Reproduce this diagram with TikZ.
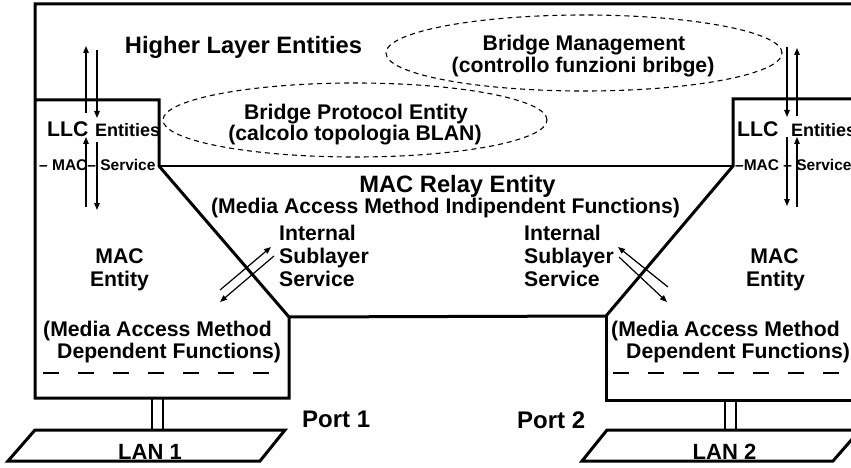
\documentclass[tikz,border=0pt]{standalone}
\usepackage{fontspec}
\setmainfont{Liberation Sans}
\usetikzlibrary{arrows.meta,shapes.geometric}
\begin{document}
\begin{tikzpicture}[x=1pt,y=-1pt,
  heavy/.style={line width=3pt, line join=miter},
  fine/.style={line width=1.3pt},
  flow/.style={line width=1.2pt, -{Triangle[length=7pt,width=5.5pt]}},
  oval/.style={line width=1.1pt, dash pattern=on 5pt off 4pt},
  sepline/.style={line width=1.2pt, dash pattern=on 16pt off 19pt},
  lbl/.style={inner sep=0pt, anchor=base, font=\fontsize{21.2}{24}\selectfont\bfseries},
  lblw/.style={lbl, anchor=base west},
  big/.style={lbl, font=\fontsize{23.7}{26}\selectfont\bfseries},
  mid/.style={lblw, font=\fontsize{18}{20}\selectfont\bfseries},
  tiny/.style={lblw, font=\fontsize{15.5}{18}\selectfont\bfseries},
]
\useasboundingbox (0,0) rectangle (851,468);
\clip (0,0) rectangle (851,468);

% corners of the bridge outline
\coordinate (frameTR) at (880,4);
\coordinate (frameTL) at (35,4);
\coordinate (leftBL)  at (35,398);
\coordinate (leftBR)  at (289,398);
\coordinate (relayBL) at (289,317);
\coordinate (leftSrv) at (159,166);
\coordinate (leftTR)  at (159,100);
\coordinate (leftTL)  at (35,100);
\coordinate (relayBR) at (606,316);
\coordinate (rightSrv) at (733,166);
\coordinate (rightTL) at (733,99);
\coordinate (rightTR) at (880,99);
\coordinate (rightBL) at (606,400);
\coordinate (rightBR) at (880,400);

% outer frame, port 1 block and relay entity
\draw[heavy] (frameTR) -- (frameTL) -- (leftBL) -- (leftBR) -- (relayBL)
  -- (leftSrv) -- (leftTR) -- (leftTL);
\draw[heavy] (relayBL) -- (relayBR) -- (rightSrv) -- (rightTL) -- (rightTR);
\draw[heavy] (relayBR) -- (rightBL) -- (rightBR);
\draw[fine] (leftSrv) -- (rightSrv);

% dashed separators inside the MAC entities
\coordinate (sepLa) at (43,373);  \coordinate (sepLb) at (282,373);
\coordinate (sepRa) at (613,373); \coordinate (sepRb) at (880,373);
\draw[sepline] (sepLa) -- (sepLb);
\draw[sepline] (sepRa) -- (sepRb);

% management entities
\node[draw, oval, ellipse, minimum width=396pt, minimum height=76pt, inner sep=0pt] (mgmt) at (584,53) {};
\node[draw, oval, ellipse, minimum width=384pt, minimum height=74pt, inner sep=0pt] (bpe) at (355,120) {};

% texts
\node[big] (hle) at (243.5,54) {Higher Layer Entities};
\node[lbl] (mgmtA) at (584,51) {Bridge Management};
\node[lbl] (mgmtB) at (583,73) {(controllo funzioni bribge)};
\node[lbl] (bpeA) at (356,120) {Bridge Protocol Entity};
\node[lbl] (bpeB) at (355,140) {(calcolo topologia BLAN)};

\node[lblw] (llcL) at (47,137) {LLC};
\node[mid] (entL) at (95,137) {Entities};
\node[tiny] (srvL) at (39,170) {\textendash\ MAC\textendash\ Service};
\node[lblw] (llcR) at (737,137) {LLC};
\node[mid] (entR) at (791,137) {Entities};
\node[tiny] (srvR) at (735,170) {\textendash MAC \textendash\ Service};

\node[big] (relayA) at (457.5,192) {MAC Relay Entity};
\node[lbl] (relayB) at (445.5,213) {(Media Access Method Indipendent Functions)};

\node[lblw] (issLa) at (279,240) {Internal};
\node[lblw] (issLb) at (279,263) {Sublayer};
\node[lblw] (issLc) at (279,286) {Service};
\node[lblw] (issRa) at (524,240) {Internal};
\node[lblw] (issRb) at (524,263) {Sublayer};
\node[lblw] (issRc) at (524,286) {Service};

\node[lbl] (macLa) at (119.5,263) {MAC};
\node[lbl] (macLb) at (119.5,286) {Entity};
\node[lbl] (macRa) at (774.5,263) {MAC};
\node[lbl] (macRb) at (775.5,286) {Entity};

\node[lblw] (depLa) at (43,336) {(Media Access Method};
\node[lblw] (depLb) at (57,358) {Dependent Functions)};
\node[lblw] (depRa) at (611,336) {(Media Access Method};
\node[lblw] (depRb) at (626,358) {Dependent Functions)};

\node[lblw, font=\fontsize{24}{26}\selectfont\bfseries] (port1) at (302,427) {Port 1};
\node[lblw, font=\fontsize{24}{26}\selectfont\bfseries] (port2) at (517,428) {Port 2};

% service primitives, port 1
\coordinate (a1) at (86,113);  \coordinate (a2) at (86,46);
\coordinate (a3) at (97,50);   \coordinate (a4) at (97,118);
\coordinate (a5) at (86,207);  \coordinate (a6) at (86,137);
\coordinate (a7) at (97,142);  \coordinate (a8) at (97,210);
\draw[flow] (a1) -- (a2);
\draw[flow] (a3) -- (a4);
\draw[flow] (a5) -- (a6);
\draw[flow] (a7) -- (a8);

% service primitives, port 2
\coordinate (b1) at (787,47);  \coordinate (b2) at (787,117);
\coordinate (b3) at (797,116); \coordinate (b4) at (797,48);
\coordinate (b5) at (787,137); \coordinate (b6) at (787,206);
\coordinate (b7) at (797,207); \coordinate (b8) at (797,137);
\draw[flow] (b1) -- (b2);
\draw[flow] (b3) -- (b4);
\draw[flow] (b5) -- (b6);
\draw[flow] (b7) -- (b8);

% internal sublayer service primitives
\coordinate (c1) at (220,290); \coordinate (c2) at (271,247);
\coordinate (c3) at (274,256); \coordinate (c4) at (220,302);
\coordinate (d1) at (668,287); \coordinate (d2) at (618,247);
\coordinate (d3) at (619,257); \coordinate (d4) at (667,302);
\draw[flow] (c1) -- (c2);
\draw[flow] (c3) -- (c4);
\draw[flow] (d1) -- (d2);
\draw[flow] (d3) -- (d4);

% attachment to the LANs
\coordinate (p1a) at (152,398); \coordinate (p1b) at (152,430);
\coordinate (p1c) at (163,398); \coordinate (p1d) at (163,430);
\coordinate (p2a) at (725,400); \coordinate (p2b) at (725,430);
\coordinate (p2c) at (736,400); \coordinate (p2d) at (736,430);
\draw[fine] (p1a) -- (p1b);
\draw[fine] (p1c) -- (p1d);
\draw[fine] (p2a) -- (p2b);
\draw[fine] (p2c) -- (p2d);

% LAN segments
\coordinate (l1a) at (35,430);  \coordinate (l1b) at (285,430);
\coordinate (l1c) at (260,461); \coordinate (l1d) at (8,461);
\coordinate (l2a) at (607,430); \coordinate (l2b) at (860,430);
\coordinate (l2c) at (833,461); \coordinate (l2d) at (582,461);
\draw[heavy] (l1a) -- (l1b) -- (l1c) -- (l1d) -- cycle;
\draw[heavy] (l2a) -- (l2b) -- (l2c) -- (l2d) -- cycle;
\node[lbl, font=\fontsize{22}{24}\selectfont\bfseries] (lan1) at (150,459) {LAN 1};
\node[lbl, font=\fontsize{22}{24}\selectfont\bfseries] (lan2) at (724.5,459) {LAN 2};
\end{tikzpicture}
\end{document}
